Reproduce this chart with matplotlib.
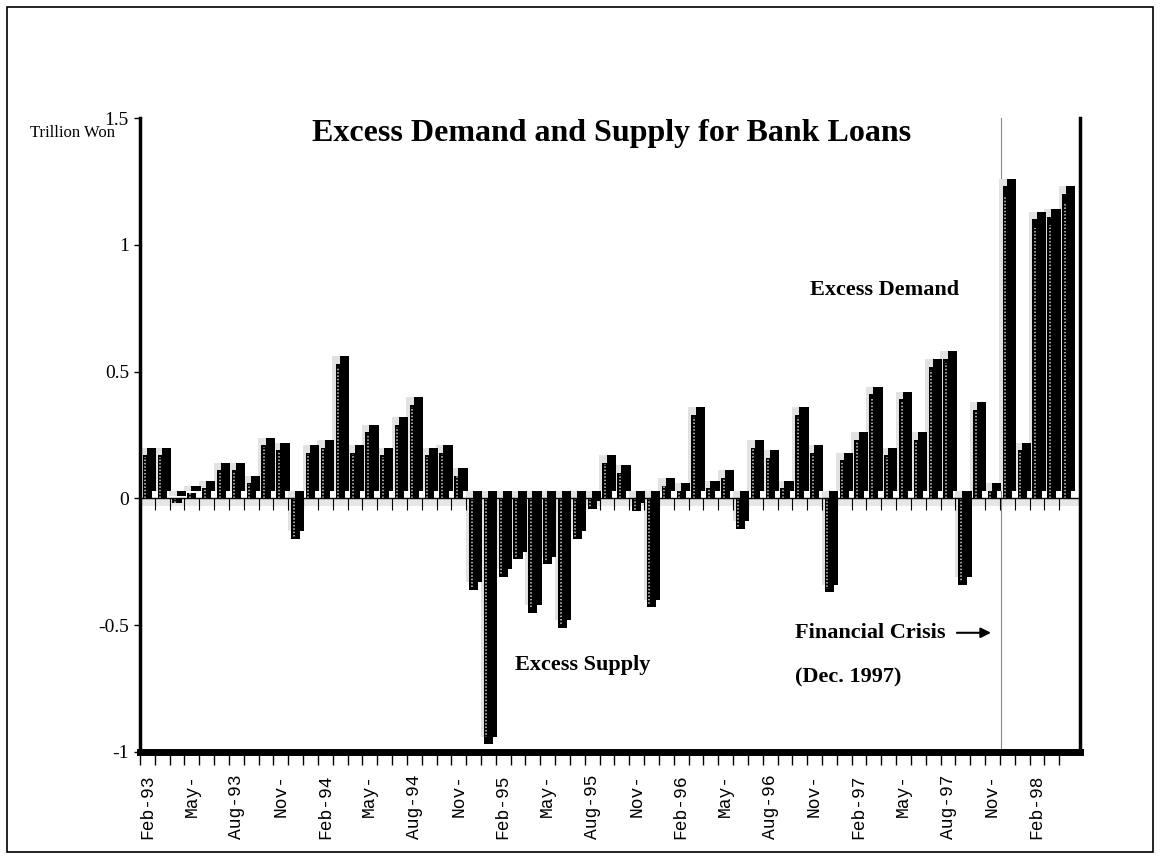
import numpy as np
import matplotlib
matplotlib.use("Agg")
import matplotlib.pyplot as plt
from matplotlib.patches import Rectangle

plt.rcParams['axes.unicode_minus'] = False

# Monthly excess demand (+) / excess supply (-), Feb-93 .. Apr-98, trillion won
months = ['Feb-93', 'Mar-93', 'Apr-93', 'May-93', 'Jun-93', 'Jul-93', 'Aug-93', 'Sep-93',
          'Oct-93', 'Nov-93', 'Dec-93', 'Jan-94', 'Feb-94', 'Mar-94', 'Apr-94', 'May-94',
          'Jun-94', 'Jul-94', 'Aug-94', 'Sep-94', 'Oct-94', 'Nov-94', 'Dec-94', 'Jan-95',
          'Feb-95', 'Mar-95', 'Apr-95', 'May-95', 'Jun-95', 'Jul-95', 'Aug-95', 'Sep-95',
          'Oct-95', 'Nov-95', 'Dec-95', 'Jan-96', 'Feb-96', 'Mar-96', 'Apr-96', 'May-96',
          'Jun-96', 'Jul-96', 'Aug-96', 'Sep-96', 'Oct-96', 'Nov-96', 'Dec-96', 'Jan-97',
          'Feb-97', 'Mar-97', 'Apr-97', 'May-97', 'Jun-97', 'Jul-97', 'Aug-97', 'Sep-97',
          'Oct-97', 'Nov-97', 'Dec-97', 'Jan-98', 'Feb-98', 'Mar-98', 'Apr-98']
values = [0.17, 0.17, -0.02, 0.02, 0.04, 0.11, 0.11, 0.06,
          0.21, 0.19, -0.16, 0.18, 0.20, 0.53, 0.18, 0.26,
          0.17, 0.29, 0.37, 0.17, 0.18, 0.09, -0.36, -0.97,
          -0.31, -0.24, -0.45, -0.26, -0.51, -0.16, -0.04, 0.14,
          0.10, -0.05, -0.43, 0.05, 0.03, 0.33, 0.04, 0.08,
          -0.12, 0.20, 0.16, 0.04, 0.33, 0.18, -0.37, 0.15,
          0.23, 0.41, 0.17, 0.39, 0.23, 0.52, 0.55, -0.34,
          0.35, 0.03, 1.23, 0.19, 1.10, 1.11, 1.20]

tick_labels = ['Feb-93', 'May-', 'Aug-93', 'Nov-', 'Feb-94', 'May-', 'Aug-94', 'Nov-',
               'Feb-95', 'May-', 'Aug-95', 'Nov-', 'Feb-96', 'May-', 'Aug-96', 'Nov-',
               'Feb-97', 'May-', 'Aug-97', 'Nov-', 'Feb-98']
y_ticks = [-1, -0.5, 0, 0.5, 1, 1.5]
y_tick_labels = ['-1', '-0.5', '0', '0.5', '1', '1.5']

serif = ['Liberation Serif', 'DejaVu Serif']

fig = plt.figure(figsize=(11.6, 8.59), dpi=100)
ax = fig.add_axes([0.1207, 0.1246, 0.8103, 0.738])

x = np.arange(len(values))
vals = np.array(values)
w = 0.62
dx, dy = 0.28, 0.03   # fake 3D depth

# light dithered "shadow" to the left of each column
ax.bar(x - 0.22, vals, width=w, bottom=dy, color='#e2e2e2', linewidth=0, zorder=1)
# depth block (shifted copy) and front face
ax.bar(x + dx, vals, width=w, bottom=dy, color='black', zorder=2)
ax.bar(x, vals, width=w, color='black', zorder=3)
# dotted highlight stripe on front face
ax.vlines(x - w * 0.22, 0, vals * 0.97, colors='#d0d0d0',
          linestyles=(0, (1, 1.2)), linewidth=1.1, zorder=4)

# floor band and zero line with its tick marks
ax.axhspan(-0.03, 0, color='#e6e6e6', zorder=0, linewidth=0)
ax.axhline(0, color='black', linewidth=1, zorder=5)
ax.vlines(x - 0.5, -0.045, 0, colors='black', linewidth=0.8, zorder=5)

# crisis marker
ax.axvline(57.6, color='#888888', linewidth=0.8, zorder=0)

ax.set_xlim(-0.47, 62.9)
ax.set_ylim(-1, 1.5)

ax.set_xticks(x[::3])
ax.set_xticklabels(tick_labels, rotation=90, family=['Liberation Mono', 'DejaVu Sans Mono'],
                   fontsize=13)
ax.set_xticks(x - 0.5, minor=True)
ax.tick_params(axis='x', which='major', length=0, pad=16)
ax.tick_params(axis='x', which='minor', length=9, width=1, direction='out')

ax.set_yticks(y_ticks)
ax.set_yticklabels(y_tick_labels, family=serif, fontsize=14)
ax.tick_params(axis='y', length=4, width=1, pad=4)

for side in ['left', 'right']:
    ax.spines[side].set_linewidth(2.5)
ax.spines['bottom'].set_linewidth(5)
ax.spines['top'].set_visible(False)

# texts
fig.text(0.527, 0.845, 'Excess Demand and Supply for Bank Loans', ha='center', va='center',
         family=serif, fontweight='bold', fontsize=23)
fig.text(0.026, 0.845, 'Trillion Won', ha='left', va='center', family=serif, fontsize=12)
fig.text(0.698, 0.662, 'Excess Demand', ha='left', va='center', family=serif,
         fontweight='bold', fontsize=16)
fig.text(0.444, 0.226, 'Excess Supply', ha='left', va='center', family=serif,
         fontweight='bold', fontsize=16)
fig.text(0.685, 0.211, '(Dec. 1997)', ha='left', va='center', family=serif,
         fontweight='bold', fontsize=16)
ax.annotate('Financial Crisis', xy=(56.9, -0.53), xytext=(43.7, -0.53),
            ha='left', va='center', family=serif, fontweight='bold', fontsize=16,
            arrowprops=dict(arrowstyle='-|>', color='black', lw=1.5, mutation_scale=15,
                            shrinkA=6, shrinkB=0))

# outer frame
fig.patches.append(Rectangle((0.006, 0.008), 0.988, 0.984, transform=fig.transFigure,
                             fill=False, edgecolor='black', linewidth=1.2))

fig.savefig('out.png', dpi=100)
